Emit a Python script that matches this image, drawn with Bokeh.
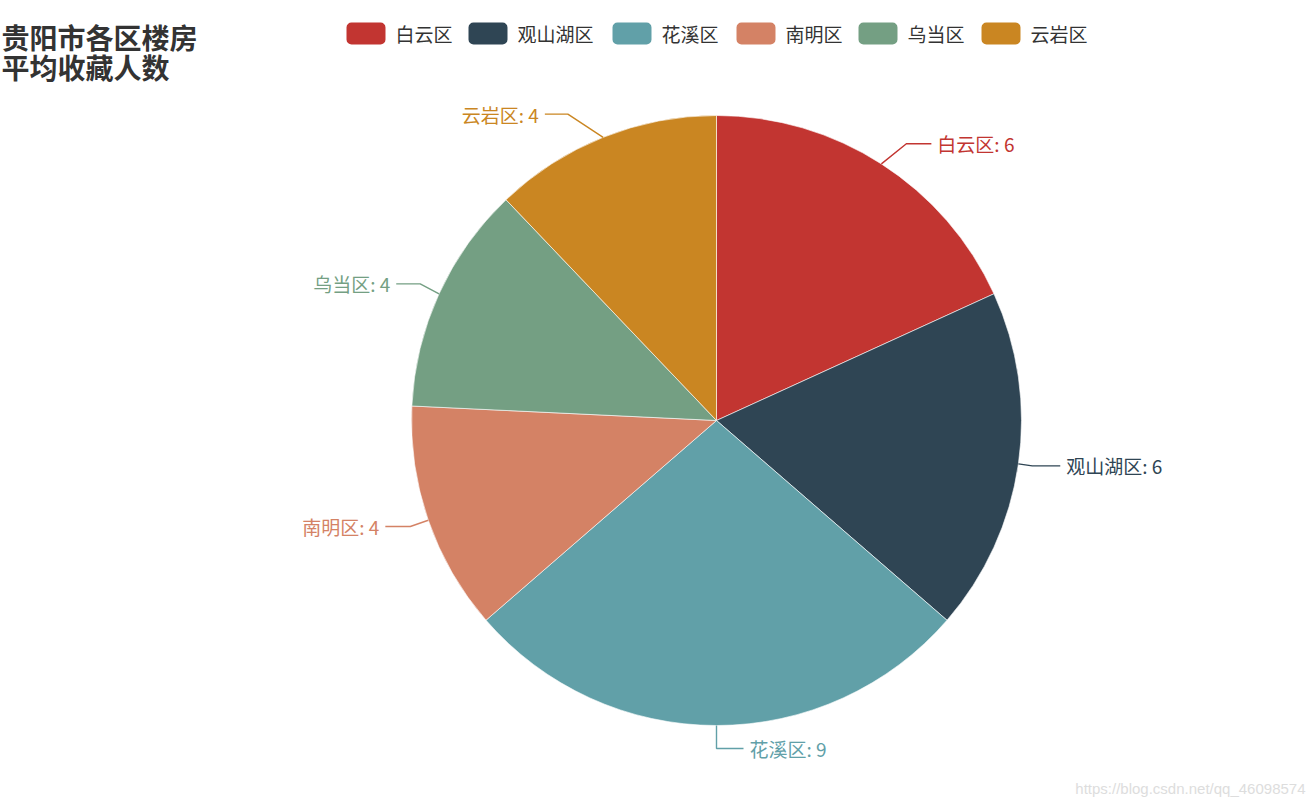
import math
from bokeh.plotting import figure
from bokeh.models import Range1d, ColumnDataSource
from bokeh.core.properties import value
from bokeh.embed import file_html
from bokeh.resources import INLINE

# ---- data ----
districts = ["白云区", "观山湖区", "花溪区", "南明区", "乌当区", "云岩区"]
avg_favorites = [6, 6, 9, 4, 4, 4]
colors = ["#c23531", "#2f4554", "#61a0a8", "#d48265", "#749f83", "#ca8622"]
title_lines = ["贵阳市各区楼房", "平均收藏人数"]
watermark = "https://blog.csdn.net/qq_46098574"

# ---- layout (pixel-like coordinates; y measured from page top, flipped below) ----
W, H = 1310, 800
PAGE_H = 805
CX, CY_TOP, R = 716, 420, 305
label_len1 = [24, 14, 23, 19, 24, 25]       # radial part of the label line
label_shift = [12, 0, 0, 0, 3, -26]         # horizontal nudge of the bend (label de-overlap)
label_len2 = [25, 28, 27, 25, 24, 23]       # horizontal part of the label line
legend_x = [346, 468, 612, 736, 858, 981]
FONT = value("Noto Sans CJK SC")


def fy(y_top):
    return PAGE_H - y_top


CY = fy(CY_TOP)

p = figure(width=W, height=H, output_backend="svg", toolbar_location=None,
           x_range=Range1d(0, W), y_range=Range1d(PAGE_H - H, PAGE_H),
           x_axis_location=None, y_axis_location=None, min_border=0,
           outline_line_color=None, background_fill_color="white")
p.min_border_left = p.min_border_right = p.min_border_top = p.min_border_bottom = 0
p.xgrid.visible = False
p.ygrid.visible = False

# ---- pie ----
total = sum(avg_favorites)
starts, ends, mids = [], [], []
acc = 0
for v in avg_favorites:
    a0 = math.pi / 2 - 2 * math.pi * acc / total
    acc += v
    a1 = math.pi / 2 - 2 * math.pi * acc / total
    starts.append(a1)
    ends.append(a0)
    mids.append((a0 + a1) / 2)

src = ColumnDataSource(dict(start=starts, end=ends, color=colors, name=districts))
p.wedge(x=CX, y=CY, radius=R, start_angle="start", end_angle="end",
        direction="anticlock", fill_color="color", line_color="white",
        line_width=0.6, source=src)

# ---- label lines and labels ----
xs, ys, tx, ty, aligns, texts = [], [], [], [], [], []
for i, m in enumerate(mids):
    c, s = math.cos(m), math.sin(m)
    side = 1 if c >= -1e-9 else -1
    x1, y1 = CX + R * c, CY + R * s
    x2 = CX + (R + label_len1[i]) * c + label_shift[i]
    y2 = CY + (R + label_len1[i]) * s
    x3, y3 = x2 + side * label_len2[i], y2
    xs.append([x1, x2, x3])
    ys.append([y1, y2, y3])
    tx.append(x3 + side * 6)
    ty.append(y3)
    aligns.append("left" if side > 0 else "right")
    texts.append(f"{districts[i]}: {avg_favorites[i]}")

p.multi_line(xs=xs, ys=ys, line_color=colors, line_width=1.4)
p.text(x=tx, y=ty, text=texts, text_align=aligns, text_baseline="middle",
       text_color=colors, text_font=FONT, text_font_size="19px")

# ---- legend ----
p.quad(left=legend_x, right=[x + 39 for x in legend_x], top=fy(22), bottom=fy(44),
       fill_color=colors, line_color=None, border_radius=5)
p.text(x=[x + 49 for x in legend_x], y=fy(33), text=districts, text_align="left",
       text_baseline="middle", text_color="#333333", text_font=FONT,
       text_font_size="19px")

# ---- title ----
p.text(x=[1, 1], y=[fy(36), fy(66)], text=title_lines, text_align="left",
       text_baseline="middle", text_color="#333333", text_font=FONT,
       text_font_size="28px", text_font_style="bold")

# ---- watermark ----
p.text(x=[1305], y=[fy(788)], text=[watermark], text_align="right",
       text_baseline="middle", text_color="#dddddd", text_font=value("Liberation Sans"),
       text_font_size="15px")

open("out.html", "w").write(file_html(p, INLINE))
